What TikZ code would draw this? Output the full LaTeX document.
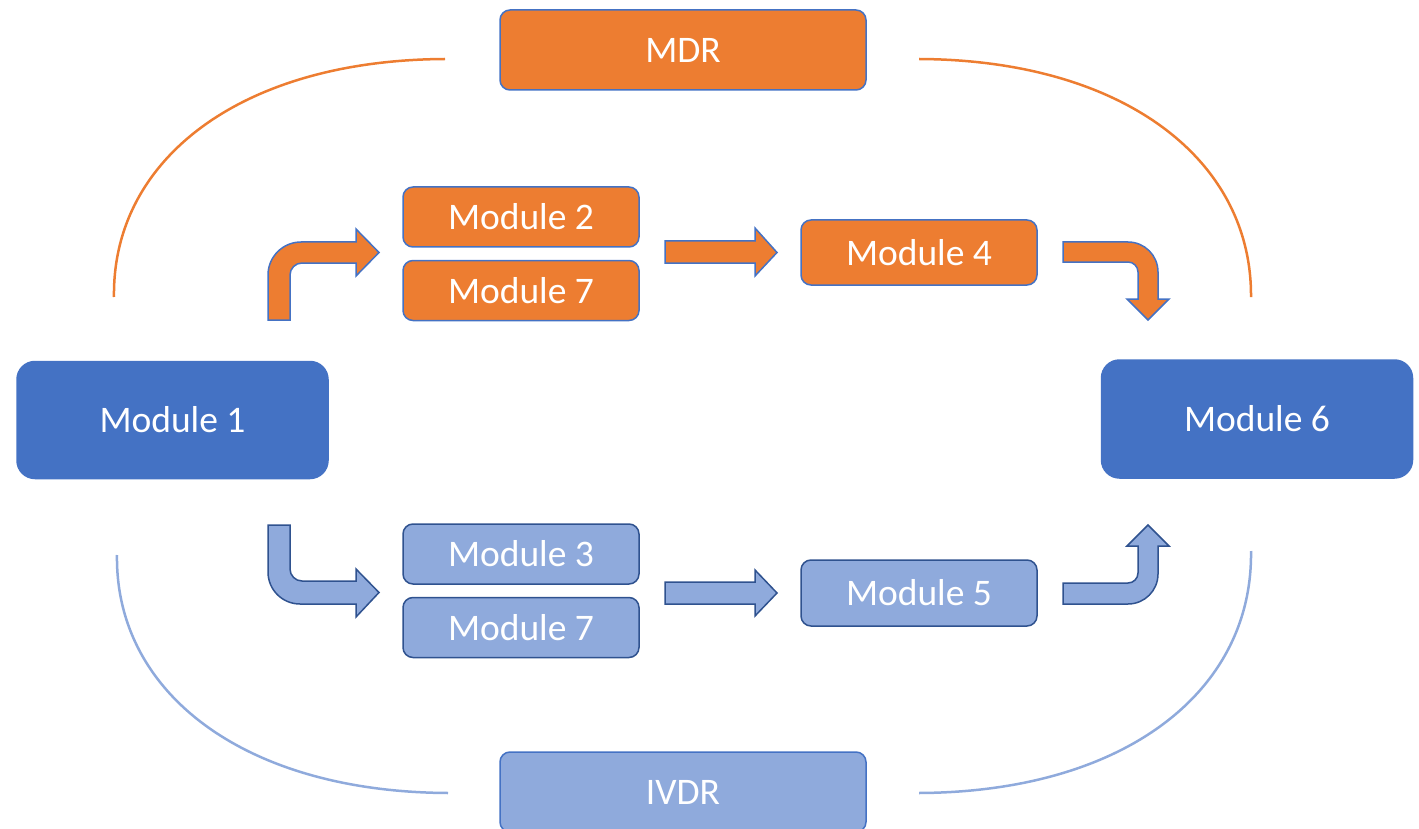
\documentclass[tikz,border=0pt]{standalone}
\usepackage{fontspec}
\setmainfont{Carlito}
\usetikzlibrary{positioning, calc}
\definecolor{mdrorange}{HTML}{ED7D31}
\definecolor{modblue}{HTML}{4472C4}
\definecolor{ivdrblue}{HTML}{8FAADC}
\definecolor{darkblue}{HTML}{2F528F}

\tikzset{
    modbox/.style={rounded corners=10pt, line width=1.5pt, minimum width=236pt, minimum height=60pt, inner sep=0pt, text=white, font=\fontsize{37.5}{42}\selectfont},
    orangebox/.style={modbox, draw=modblue, fill=mdrorange},
    lightbox/.style={modbox, draw=darkblue, fill=ivdrblue},
    bigbox/.style={modbox, rounded corners=18pt, draw=modblue, fill=modblue, minimum width=311pt, minimum height=117pt},
    orangearrow/.style={draw=modblue, fill=mdrorange, line width=1.5pt},
    bluearrow/.style={draw=darkblue, fill=ivdrblue, line width=1.5pt},
    mdrarc/.style={draw=mdrorange, line width=2.5pt},
    ivdrarc/.style={draw=ivdrblue, line width=2.5pt}
}

\begin{document}
\begin{tikzpicture}[x=1pt, y=-1pt]
    \useasboundingbox (0,0) rectangle (1419,829);

    % Regulation boxes
    \node[orangebox, minimum width=366pt, minimum height=80pt] (mdr) at (683,50) {MDR};
    \node[lightbox, draw=modblue, minimum width=366pt, minimum height=80pt] (ivdr) at (683,792) {IVDR};

    % Start and end modules
    \node[bigbox] (m1) at (172.5,420) {Module 1};
    \node[bigbox, minimum height=118pt] (m6) at (1257,419) {Module 6};

    % MDR path
    \node[orangebox] (m2) at (521,217) {Module 2};
    \node[orangebox, below=12pt of m2] (m7a) {Module 7};
    \node[orangebox, minimum height=65pt] (m4) at (919,252.5) {Module 4};

    % IVDR path
    \node[lightbox] (m3) at (521,554) {Module 3};
    \node[lightbox, below=12pt of m3] (m7b) {Module 7};
    \node[lightbox, minimum height=66pt] (m5) at (919,593) {Module 5};

    % Arcs
    \draw[mdrarc] (114,297) .. controls (112,160) and (240,60) .. (445,59);
    \draw[mdrarc] (919,59) .. controls (1124,60) and (1252,160) .. (1251,297);
    \draw[ivdrarc] (117,555) .. controls (115,692) and (243,792) .. (448,793);
    \draw[ivdrarc] (919,793) .. controls (1124,792) and (1253,692) .. (1251,551);

    % Orange arrows
    \path[orangearrow] (268,320) -- (268,275) .. controls (268,256.8) and (282.8,242) .. (301,242)
        -- (356,242) -- (356,229) -- (379,252.5) -- (356,276) -- (356,263) -- (302,263)
        .. controls (295.4,263) and (290,268.4) .. (290,275) -- (290,320) -- cycle;
    \path[orangearrow] (665,241) -- (755,241) -- (755,228) -- (777,252.5) -- (755,276) -- (755,263) -- (665,263) -- cycle;
    \path[orangearrow] (1063,242) -- (1128,242) .. controls (1144.6,242) and (1158,255.4) .. (1158,272)
        -- (1158,299) -- (1169,299) -- (1148,320) -- (1127,299) -- (1138,299) -- (1138,272)
        .. controls (1138,266.5) and (1133.5,262) .. (1128,262) -- (1063,262) -- cycle;

    % Blue arrows
    \path[bluearrow] (268,525) -- (268,572) .. controls (268,589.7) and (282.3,604) .. (300,604)
        -- (356,604) -- (356,617) -- (379,592.5) -- (356,569) -- (356,581) -- (302,581)
        .. controls (295.4,581) and (290,575.6) .. (290,569) -- (290,525) -- cycle;
    \path[bluearrow] (665,582) -- (755,582) -- (755,570) -- (777,593) -- (755,616) -- (755,604) -- (665,604) -- cycle;
    \path[bluearrow] (1063,583) -- (1128,583) .. controls (1133.5,583) and (1138,578.5) .. (1138,573)
        -- (1138,546) -- (1127,546) -- (1148,525) -- (1169,546) -- (1158,546) -- (1158,574)
        .. controls (1158,590.6) and (1144.6,604) .. (1128,604) -- (1063,604) -- cycle;
\end{tikzpicture}
\end{document}
